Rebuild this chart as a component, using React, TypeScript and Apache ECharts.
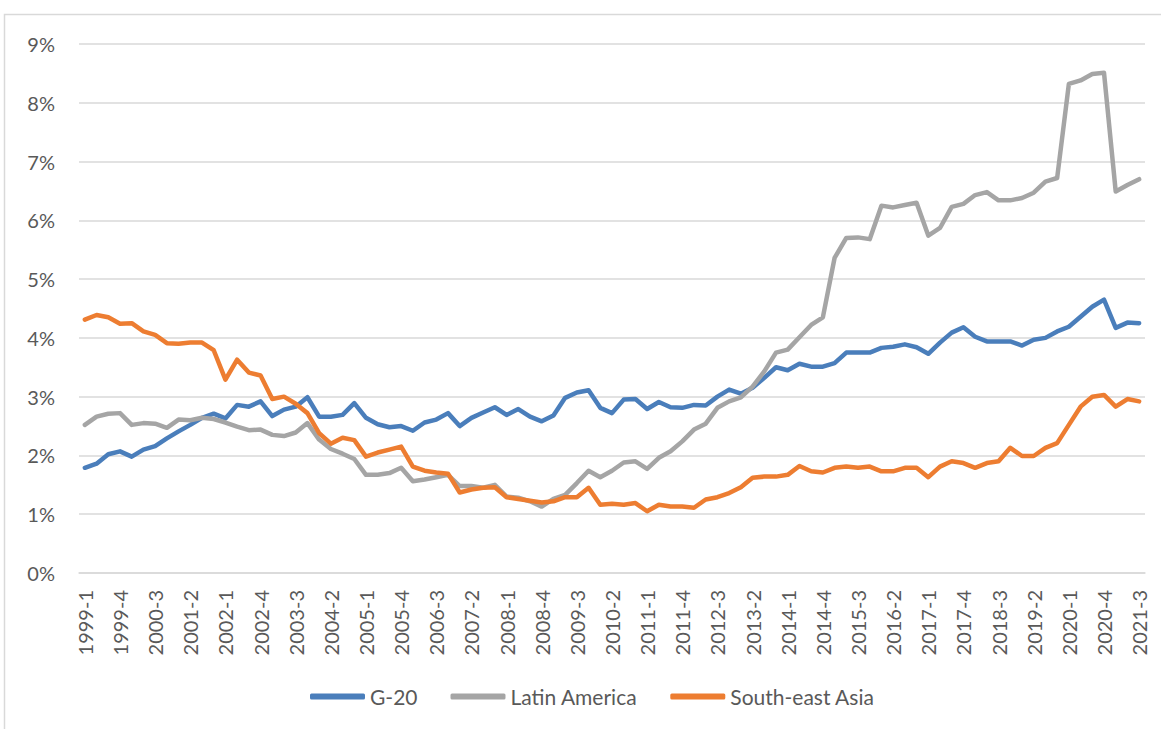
import React, { useEffect, useRef } from "react";
import * as echarts from "echarts";

const categories: string[] = [
  "1999-1","1999-2","1999-3","1999-4",
  "2000-1","2000-2","2000-3","2000-4",
  "2001-1","2001-2","2001-3","2001-4",
  "2002-1","2002-2","2002-3","2002-4",
  "2003-1","2003-2","2003-3","2003-4",
  "2004-1","2004-2","2004-3","2004-4",
  "2005-1","2005-2","2005-3","2005-4",
  "2006-1","2006-2","2006-3","2006-4",
  "2007-1","2007-2","2007-3","2007-4",
  "2008-1","2008-2","2008-3","2008-4",
  "2009-1","2009-2","2009-3","2009-4",
  "2010-1","2010-2","2010-3","2010-4",
  "2011-1","2011-2","2011-3","2011-4",
  "2012-1","2012-2","2012-3","2012-4",
  "2013-1","2013-2","2013-3","2013-4",
  "2014-1","2014-2","2014-3","2014-4",
  "2015-1","2015-2","2015-3","2015-4",
  "2016-1","2016-2","2016-3","2016-4",
  "2017-1","2017-2","2017-3","2017-4",
  "2018-1","2018-2","2018-3","2018-4",
  "2019-1","2019-2","2019-3","2019-4",
  "2020-1","2020-2","2020-3","2020-4",
  "2021-1","2021-2","2021-3",
];

const g20: number[] = [
  1.79, 1.86, 2.02, 2.07, 1.98, 2.10, 2.16, 2.29, 2.41, 2.52,
  2.64, 2.71, 2.63, 2.86, 2.83, 2.92, 2.67, 2.78, 2.83, 2.99,
  2.66, 2.66, 2.69, 2.89, 2.64, 2.53, 2.48, 2.50, 2.42, 2.56,
  2.61, 2.72, 2.50, 2.64, 2.73, 2.82, 2.69, 2.79, 2.66, 2.58,
  2.68, 2.98, 3.07, 3.11, 2.81, 2.72, 2.95, 2.96, 2.79, 2.91,
  2.82, 2.81, 2.86, 2.85, 3.00, 3.12, 3.05, 3.15, 3.32, 3.50,
  3.45, 3.56, 3.51, 3.51, 3.57, 3.75, 3.75, 3.75, 3.83, 3.85,
  3.89, 3.84, 3.73, 3.92, 4.09, 4.18, 4.02, 3.94, 3.94, 3.94,
  3.87, 3.97, 4.00, 4.11, 4.19, 4.36, 4.53, 4.65, 4.17, 4.26,
  4.25,
];

const latinAmerica: number[] = [
  2.52, 2.66, 2.71, 2.72, 2.52, 2.55, 2.54, 2.47, 2.61, 2.60,
  2.64, 2.62, 2.56, 2.49, 2.43, 2.44, 2.35, 2.33, 2.39, 2.55,
  2.27, 2.11, 2.03, 1.94, 1.67, 1.67, 1.70, 1.79, 1.56, 1.59,
  1.63, 1.67, 1.48, 1.48, 1.45, 1.50, 1.30, 1.28, 1.22, 1.13,
  1.26, 1.33, 1.53, 1.74, 1.63, 1.74, 1.88, 1.90, 1.77, 1.96,
  2.07, 2.24, 2.44, 2.54, 2.81, 2.92, 2.99, 3.17, 3.43, 3.75,
  3.80, 4.01, 4.22, 4.35, 5.36, 5.70, 5.71, 5.68, 6.25, 6.22,
  6.26, 6.30, 5.74, 5.87, 6.23, 6.28, 6.43, 6.48, 6.34, 6.34,
  6.38, 6.47, 6.66, 6.72, 8.32, 8.38, 8.49, 8.51, 6.49, 6.60,
  6.70,
];

const southEastAsia: number[] = [
  4.31, 4.39, 4.35, 4.24, 4.25, 4.11, 4.05, 3.91, 3.90, 3.92,
  3.92, 3.79, 3.29, 3.63, 3.41, 3.36, 2.96, 3.00, 2.88, 2.72,
  2.38, 2.20, 2.30, 2.26, 1.98, 2.05, 2.10, 2.15, 1.81, 1.74,
  1.71, 1.69, 1.37, 1.42, 1.45, 1.46, 1.29, 1.26, 1.23, 1.20,
  1.22, 1.29, 1.29, 1.45, 1.16, 1.18, 1.16, 1.19, 1.05, 1.16,
  1.13, 1.13, 1.11, 1.25, 1.29, 1.36, 1.46, 1.62, 1.64, 1.64,
  1.67, 1.82, 1.73, 1.71, 1.79, 1.81, 1.79, 1.81, 1.73, 1.73,
  1.79, 1.79, 1.63, 1.81, 1.90, 1.87, 1.79, 1.87, 1.90, 2.13,
  1.99, 1.99, 2.13, 2.21, 2.52, 2.83, 3.00, 3.03, 2.83, 2.96,
  2.92,
];

const seriesNames: string[] = ["G-20", "Latin America", "South-east Asia"];
const seriesColors: string[] = ["#4A7EBB", "#A5A5A5", "#ED7D31"];

const FONT = "Lato, 'Open Sans', sans-serif";

export default function App() {
  const ref = useRef<HTMLDivElement>(null);

  useEffect(() => {
    if (!ref.current) return;
    const chart = echarts.init(ref.current, undefined, { renderer: "svg" });
    const data = [g20, latinAmerica, southEastAsia];
    chart.setOption({
      animation: false,
      backgroundColor: "#ffffff",
      textStyle: { fontFamily: FONT },
      graphic: [
        {
          type: "rect",
          shape: { x: 4.5, y: 14.5, width: 1300, height: 900 },
          style: { fill: "none", stroke: "#D9D9D9", lineWidth: 1.5 },
          silent: true,
          z: 0,
        },
      ],
      grid: { left: 79, right: 16, top: 44, bottom: 156, containLabel: false },
      legend: {
        data: seriesNames,
        left: 305,
        top: 681,
        icon: "roundRect",
        itemWidth: 55,
        itemHeight: 6,
        itemGap: 33,
        textStyle: { color: "#595959", fontSize: 21, fontFamily: FONT },
      },
      xAxis: {
        type: "category",
        data: categories,
        boundaryGap: true,
        axisTick: { show: false },
        axisLine: { show: true, lineStyle: { color: "#D9D9D9", width: 1.5 } },
        axisLabel: {
          interval: 2,
          rotate: 90,
          margin: 17,
          color: "#595959",
          fontSize: 20,
          fontFamily: FONT,
        },
        splitLine: { show: false },
      },
      yAxis: {
        type: "value",
        min: 0,
        max: 9,
        interval: 1,
        axisLine: { show: false },
        axisTick: { show: false },
        axisLabel: {
          formatter: "{value}%",
          margin: 24,
          color: "#595959",
          fontSize: 20,
          fontFamily: FONT,
        },
        splitLine: { lineStyle: { color: "#D9D9D9", width: 1.5 } },
      },
      series: seriesNames.map((name, i) => ({
        name,
        type: "line",
        data: data[i],
        symbol: "none",
        z: 2 + i,
        itemStyle: { color: seriesColors[i] },
        lineStyle: { color: seriesColors[i], width: 4.5, join: "round", cap: "round" },
      })),
    });
    return () => chart.dispose();
  }, []);

  return (
    <div
      ref={ref}
      style={{ position: "absolute", left: 0, top: 0, width: 1161, height: 729 }}
    />
  );
}
